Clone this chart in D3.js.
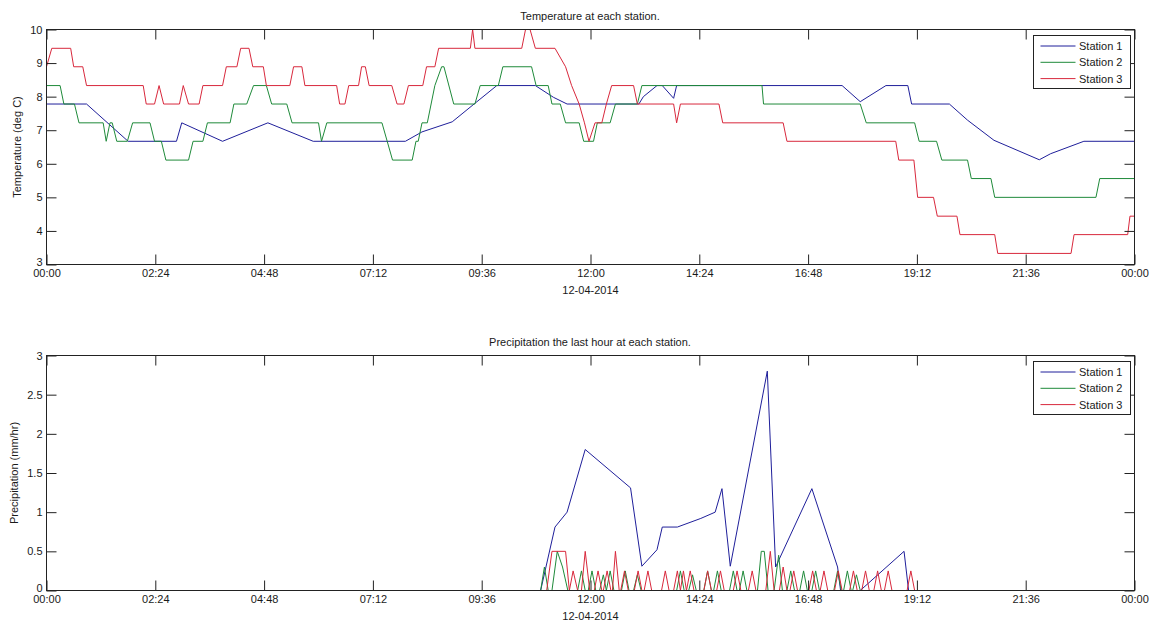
<!DOCTYPE html>
<html>
<head>
<meta charset="utf-8">
<script src="https://cdn.jsdelivr.net/npm/d3@7"></script>
<style>
  html, body { margin: 0; padding: 0; background: #fff; }
  svg { display: block; }
  text { font-family: "Liberation Sans", Arial, sans-serif; fill: #1a1a1a; }
</style>
</head>
<body>
<script>
// ---------- DATA ----------
const stations = ["Station 1", "Station 2", "Station 3"];
const timeTicks = [0, 144, 288, 432, 576, 720, 864, 1008, 1152, 1296, 1440]; // minutes after midnight
const timeLabels = ["00:00", "02:24", "04:48", "07:12", "09:36", "12:00", "14:24", "16:48", "19:12", "21:36", "00:00"];
const dateLabel = "12-04-2014";
const tempTicks = [3, 4, 5, 6, 7, 8, 9, 10];
const precipTicks = [0, 0.5, 1, 1.5, 2, 2.5, 3];
const precipTickLabels = ["0", "0.5", "1", "1.5", "2", "2.5", "3"];

// temperature [minute, deg C]
const temp1 = [[0,7.78],[53,7.78],[108,6.67],[172,6.67],[179,7.22],[233,6.67],[293,7.22],[353,6.67],[475,6.67],[497,6.95],[537,7.25],[567,7.8],[596,8.33],[647,8.33],[671,7.98],[689,7.78],[784,7.78],[790,8.0],[808,8.33],[815,8.33],[830,7.95],[834,8.33],[1053,8.33],[1077,7.85],[1111,8.33],[1140,8.33],[1145,7.78],[1195,7.78],[1219,7.3],[1254,6.7],[1314,6.12],[1329,6.3],[1373,6.67],[1440,6.67]];
const temp2 = [[0,8.33],[18,8.33],[23,7.78],[37,7.78],[43,7.22],[75,7.22],[79,6.67],[84,7.22],[87,7.22],[93,6.67],[107,6.67],[114,7.22],[137,7.22],[143,6.67],[152,6.67],[158,6.11],[188,6.11],[194,6.67],[207,6.67],[213,7.22],[243,7.22],[248,7.78],[265,7.78],[274,8.33],[291,8.33],[298,7.78],[318,7.78],[325,7.22],[360,7.22],[364,6.67],[371,7.22],[444,7.22],[458,6.11],[484,6.11],[489,6.67],[492,6.67],[497,7.22],[504,7.22],[514,8.33],[523,8.89],[526,8.89],[539,7.78],[567,7.78],[574,8.33],[598,8.33],[604,8.89],[642,8.89],[648,8.33],[664,8.33],[669,7.78],[680,7.78],[687,7.22],[705,7.22],[711,6.67],[724,6.67],[729,7.22],[746,7.22],[753,7.78],[782,7.78],[788,8.33],[947,8.33],[949,7.78],[1077,7.78],[1085,7.22],[1149,7.22],[1155,6.67],[1178,6.67],[1185,6.11],[1219,6.11],[1224,5.56],[1250,5.56],[1255,5.0],[1389,5.0],[1394,5.56],[1440,5.56]];
const temp3 = [[0,8.89],[7,9.44],[32,9.44],[36,8.89],[48,8.89],[53,8.33],[128,8.33],[132,7.78],[143,7.78],[149,8.33],[155,7.78],[176,7.78],[181,8.33],[188,7.78],[202,7.78],[207,8.33],[233,8.33],[238,8.89],[252,8.89],[257,9.44],[268,9.44],[273,8.89],[287,8.89],[291,8.33],[322,8.33],[327,8.89],[338,8.89],[342,8.33],[384,8.33],[388,7.78],[395,7.78],[400,8.33],[413,8.33],[417,8.89],[422,8.89],[427,8.33],[457,8.33],[464,7.78],[473,7.78],[479,8.33],[498,8.33],[503,8.89],[514,8.89],[519,9.44],[561,9.44],[564,10],[567,9.44],[629,9.44],[634,10],[640,10],[647,9.44],[673,9.44],[687,8.89],[695,8.33],[705,7.78],[712,7.22],[718,6.67],[726,7.22],[735,7.22],[741,7.78],[748,8.33],[777,8.33],[782,7.78],[830,7.78],[834,7.22],[839,7.78],[890,7.78],[895,7.22],[975,7.22],[980,6.67],[1124,6.67],[1128,6.11],[1148,6.11],[1153,5.0],[1174,5.0],[1179,4.44],[1205,4.44],[1209,3.89],[1255,3.89],[1259,3.33],[1356,3.33],[1360,3.89],[1431,3.89],[1434,4.44],[1440,4.44]];

// precipitation [minute, mm/hr]
const prec1 = [[0,0],[654,0],[673,0.81],[689,1.0],[713,1.8],[773,1.31],[788,0.31],[808,0.52],[815,0.81],[835,0.81],[866,0.92],[885,1.0],[894,1.3],[905,0.31],[954,2.8],[965,0.3],[1013,1.3],[1047,0.3],[1051,0],[1077,0],[1135,0.5],[1141,0],[1440,0]];
const prec2 = [[0,0],[654,0],[659,0.3],[664,0],[669,0],[676,0.5],[683,0.3],[690,0],[703,0],[708,0.25],[713,0],[717,0],[722,0.25],[727,0],[732,0],[737,0.2],[741,0],[746,0.25],[751,0],[761,0],[766,0.25],[771,0],[777,0],[782,0.2],[787,0],[834,0],[839,0.25],[844,0],[850,0],[855,0.2],[860,0],[870,0],[875,0.25],[880,0],[883,0],[888,0.25],[893,0],[904,0],[909,0.25],[914,0],[917,0],[922,0.25],[927,0],[941,0],[946,0.5],[950,0.5],[955,0],[963,0],[969,0.45],[974,0],[980,0],[985,0.25],[990,0],[997,0],[1002,0.25],[1007,0],[1013,0],[1018,0.25],[1023,0],[1042,0],[1047,0.25],[1052,0],[1055,0],[1060,0.25],[1065,0],[1067,0],[1072,0.2],[1077,0],[1440,0]];
const prec3 = [[0,0],[662,0],[669,0.5],[687,0.5],[692,0],[697,0.25],[703,0],[708,0],[713,0.5],[719,0],[725,0],[730,0.25],[735,0],[737,0],[742,0.25],[747,0],[749,0],[753,0.5],[758,0],[760,0],[765,0.25],[770,0],[778,0],[783,0.25],[788,0],[791,0],[796,0.25],[801,0],[814,0],[819,0.25],[824,0],[830,0],[835,0.25],[839,0],[843,0.25],[847,0],[852,0.25],[857,0],[870,0],[875,0.25],[880,0],[887,0],[892,0.25],[897,0],[909,0],[914,0.25],[919,0],[929,0],[934,0.25],[939,0],[952,0],[958,0.5],[963,0],[970,0],[975,0.3],[980,0],[984,0],[989,0.25],[994,0],[1009,0],[1014,0.25],[1019,0],[1024,0],[1029,0.25],[1034,0],[1043,0],[1048,0.25],[1053,0],[1063,0],[1068,0.25],[1073,0],[1079,0],[1084,0.25],[1089,0],[1095,0],[1100,0.25],[1105,0],[1109,0],[1114,0.25],[1119,0],[1139,0],[1144,0.25],[1149,0],[1440,0]];

const colors = ["#1f1f9a", "#1f8a3a", "#d8283c"];

// ---------- DRAW ----------
const W = 1151, H = 623;
const svg = d3.select("body").append("svg").attr("width", W).attr("height", H);

function panel(cfg) {
  const {top, bottom, yDomain, yTicks, yLabels, series, title, titleY, ylabel, ylabelX, legendTop} = cfg;
  const left = 46.5, right = 1134.5;
  const x = d3.scaleLinear().domain([0, 1440]).range([left, right]);
  const y = d3.scaleLinear().domain(yDomain).range([bottom, top]);
  const g = svg.append("g");
  const clipId = "clip" + Math.round(top);
  svg.append("clipPath").attr("id", clipId).append("rect")
    .attr("x", left).attr("y", top - 1).attr("width", right - left).attr("height", bottom - top + 2);

  const line = d3.line().x(d => x(d[0])).y(d => y(d[1]));
  series.forEach((s, i) => {
    g.append("path").datum(s).attr("d", line).attr("fill", "none")
      .attr("stroke", colors[i]).attr("stroke-width", 1).attr("clip-path", `url(#${clipId})`);
  });

  const tickLen = 10;
  const fmtX = (d, i) => timeLabels[i];
  const axB = g.append("g").attr("transform", `translate(0,${bottom})`)
    .call(d3.axisBottom(x).tickValues(timeTicks).tickFormat(fmtX).tickSizeInner(-tickLen).tickSizeOuter(0).tickPadding(5));
  const axT = g.append("g").attr("transform", `translate(0,${top})`)
    .call(d3.axisTop(x).tickValues(timeTicks).tickFormat("").tickSizeInner(-tickLen).tickSizeOuter(0));
  const axL = g.append("g").attr("transform", `translate(${left},0)`)
    .call(d3.axisLeft(y).tickValues(yTicks).tickFormat((d, i) => yLabels[i]).tickSizeInner(-tickLen).tickSizeOuter(0).tickPadding(4));
  const axR = g.append("g").attr("transform", `translate(${right},0)`)
    .call(d3.axisRight(y).tickValues(yTicks).tickFormat("").tickSizeInner(-tickLen).tickSizeOuter(0));
  [axB, axT, axL, axR].forEach(a => {
    a.select(".domain").remove();
    a.selectAll(".tick line").attr("stroke", "#222");
    a.selectAll("text").attr("font-size", 11).attr("fill", "#1a1a1a")
      .attr("font-family", '"Liberation Sans", Arial, sans-serif');
  });
  // lowest y label sits slightly raised, as in the reference
  axL.selectAll(".tick text").filter((d, i) => i === 0).attr("dy", "0.05em");

  g.append("rect").attr("x", left).attr("y", top).attr("width", right - left).attr("height", bottom - top)
    .attr("fill", "none").attr("stroke", "#222").attr("stroke-width", 1);

  g.append("text").attr("x", x(720)).attr("y", bottom + 29).attr("text-anchor", "middle")
    .attr("font-size", 11).text(dateLabel);
  g.append("text").attr("x", 590).attr("y", titleY).attr("text-anchor", "middle")
    .attr("font-size", 11).text(title);
  g.append("text").attr("transform", `translate(${ylabelX},${(top + bottom) / 2}) rotate(-90)`)
    .attr("text-anchor", "middle").attr("font-size", 11).text(ylabel);

  // legend
  const lx = 1033.5, lw = 97, lh = 53;
  const lg = g.append("g");
  lg.append("rect").attr("x", lx).attr("y", legendTop).attr("width", lw).attr("height", lh)
    .attr("fill", "#fff").attr("stroke", "#222").attr("stroke-width", 1);
  stations.forEach((s, i) => {
    const ry = legendTop + 10.5 + i * 16.3;
    lg.append("line").attr("x1", lx + 7).attr("x2", lx + 42).attr("y1", ry).attr("y2", ry)
      .attr("stroke", colors[i]).attr("stroke-width", 1);
    lg.append("text").attr("x", lx + 45.5).attr("y", ry + 4).attr("font-size", 11).text(s);
  });
}

panel({
  top: 29.5, bottom: 264.5, yDomain: [3, 10], yTicks: tempTicks, yLabels: tempTicks.map(String),
  series: [temp1, temp2, temp3], title: "Temperature at each station.", titleY: 20,
  ylabel: "Temperature (deg C)", ylabelX: 21, legendTop: 35.5
});
panel({
  top: 355.5, bottom: 590.5, yDomain: [0, 3], yTicks: precipTicks, yLabels: precipTickLabels,
  series: [prec1, prec2, prec3], title: "Precipitation the last hour at each station.", titleY: 346,
  ylabel: "Precipitation (mm/hr)", ylabelX: 18, legendTop: 361.5
});
</script>
</body>
</html>
